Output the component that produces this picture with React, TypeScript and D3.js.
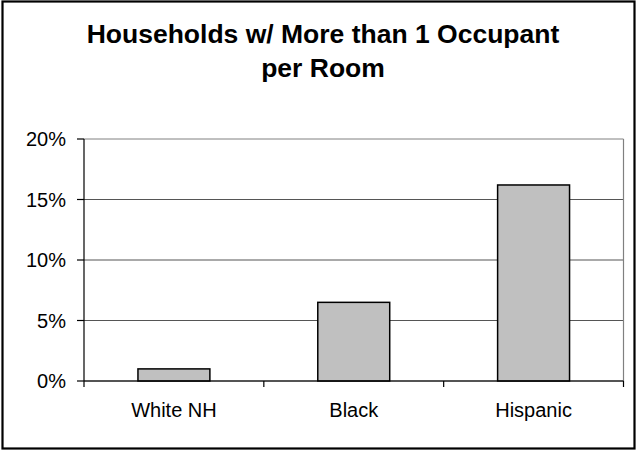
import React from "react";
import * as d3 from "d3";

const categories = ["White NH", "Black", "Hispanic"];
const values = [1.0, 6.5, 16.2];
const yTicks = [0, 5, 10, 15, 20];
const titleLines = ["Households w/ More than 1 Occupant", "per Room"];

const W = 637;
const H = 452;
const plot = { left: 84, right: 623.5, top: 139, bottom: 381 };
const FONT = "'Liberation Sans', Arial, sans-serif";

export default function App() {
  const x = d3
    .scaleBand<string>()
    .domain(categories)
    .range([plot.left, plot.right])
    .paddingInner(0.6)
    .paddingOuter(0.3);
  const xCat = d3.scaleBand<string>().domain(categories).range([plot.left, plot.right]).padding(0);
  const y = d3.scaleLinear().domain([0, 20]).range([plot.bottom, plot.top]);

  const boundaries = [plot.left, ...categories.map((c) => (xCat(c) as number) + xCat.bandwidth())];

  return (
    <svg
      width={W}
      height={H}
      style={{ position: "absolute", left: 0, top: 0, background: "#fff" }}
      fontFamily={FONT}
    >
      <rect x={0} y={0} width={W} height={H} fill="#fff" />
      <rect x={2.5} y={1.5} width={632} height={447} fill="none" stroke="#000" strokeWidth={2.2} />
      {titleLines.map((t, i) => (
        <text
          key={t}
          x={323}
          y={43 + i * 34}
          textAnchor="middle"
          fontSize={26.5}
          fontWeight="bold"
          fill="#000"
        >
          {t}
        </text>
      ))}
      {/* gridlines */}
      {yTicks.map((t) => (
        <line
          key={"g" + t}
          x1={plot.left}
          x2={plot.right}
          y1={y(t)}
          y2={y(t)}
          stroke={t === 20 ? "#808080" : "#555"}
          strokeWidth={1}
        />
      ))}
      <line x1={plot.right} x2={plot.right} y1={plot.top} y2={plot.bottom} stroke="#808080" strokeWidth={1.2} />
      {/* bars */}
      {categories.map((c, i) => (
        <rect
          key={c}
          x={x(c)}
          y={y(values[i])}
          width={x.bandwidth()}
          height={y(0) - y(values[i])}
          fill="#C0C0C0"
          stroke="#000"
          strokeWidth={1.5}
        />
      ))}
      {/* axes */}
      <line x1={plot.left} x2={plot.left} y1={plot.top} y2={plot.bottom} stroke="#000" strokeWidth={1.2} />
      <line x1={plot.left} x2={plot.right} y1={plot.bottom} y2={plot.bottom} stroke="#000" strokeWidth={1.2} />
      {yTicks.map((t) => (
        <g key={"yt" + t}>
          <line x1={plot.left - 7} x2={plot.left} y1={y(t)} y2={y(t)} stroke="#000" strokeWidth={1.2} />
          <text x={66} y={y(t) + 7} textAnchor="end" fontSize={20} fill="#000">
            {t}%
          </text>
        </g>
      ))}
      {boundaries.map((b, i) => (
        <line key={"xt" + i} x1={b} x2={b} y1={plot.bottom} y2={plot.bottom + 6} stroke="#000" strokeWidth={1.2} />
      ))}
      {categories.map((c) => (
        <text
          key={"xl" + c}
          x={(xCat(c) as number) + xCat.bandwidth() / 2}
          y={417}
          textAnchor="middle"
          fontSize={20}
          fill="#000"
        >
          {c}
        </text>
      ))}
    </svg>
  );
}
